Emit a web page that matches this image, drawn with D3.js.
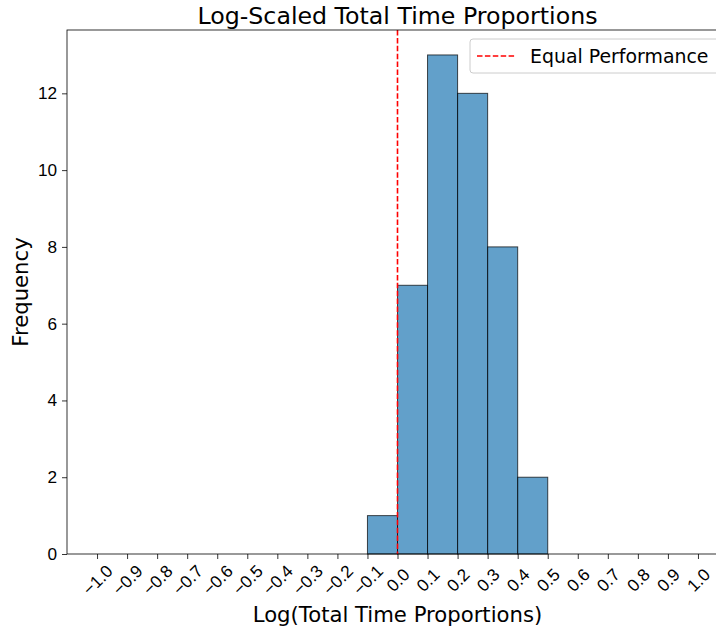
<!DOCTYPE html>
<html>
<head>
<meta charset="utf-8">
<script src="https://cdn.jsdelivr.net/npm/d3@7"></script>
<style>
  body { margin: 0; background: #fff; }
  svg { font-family: "DejaVu Sans", sans-serif; display: block; }
</style>
</head>
<body>
<div id="chart"></div>
<script>
// histogram bins (left edges), bin width and counts
var binStarts = [-0.1, 0.0, 0.1, 0.2, 0.3, 0.4];
var binWidth = 0.1;
var counts = [1, 7, 13, 12, 8, 2];
var xTicks = [-1.0, -0.9, -0.8, -0.7, -0.6, -0.5, -0.4, -0.3, -0.2, -0.1, 0.0,
              0.1, 0.2, 0.3, 0.4, 0.5, 0.6, 0.7, 0.8, 0.9, 1.0];
var yTicks = [0, 2, 4, 6, 8, 10, 12];
var refLine = 0.0;

var bins = binStarts.map(function(d, i) {
    return {x0: d, x1: d + binWidth, count: counts[i]};
});

var W = 716, H = 631;
var margin = {top: 30, right: -12, bottom: 77, left: 67};
var width = W - margin.left - margin.right;
var height = H - margin.top - margin.bottom;

var svg = d3.select("#chart")
    .append("svg")
    .attr("width", W)
    .attr("height", H);

var g = svg.append("g")
    .attr("transform", "translate(" + margin.left + "," + margin.top + ")");

var x = d3.scaleLinear()
    .domain([-1.1, 1.1])
    .range([0, width]);

var y = d3.scaleLinear()
    .domain([0, d3.max(counts) * 1.05])
    .range([height, 0]);

// bars
g.append("g")
    .selectAll("rect")
    .data(bins)
    .enter()
    .append("rect")
    .attr("x", function(d) { return x(d.x0); })
    .attr("y", function(d) { return y(d.count); })
    .attr("width", function(d) { return x(d.x1) - x(d.x0); })
    .attr("height", function(d) { return height - y(d.count); })
    .attr("fill", "#1f77b4")
    .attr("fill-opacity", 0.7)
    .attr("stroke", "#000")
    .attr("stroke-opacity", 0.7)
    .attr("stroke-width", 1);

// reference line
g.append("line")
    .attr("x1", x(refLine))
    .attr("x2", x(refLine))
    .attr("y1", 0)
    .attr("y2", height)
    .attr("stroke", "#ff0000")
    .attr("stroke-width", 1.6)
    .attr("stroke-dasharray", "5.5,2.4");

// x axis
var xAxis = g.append("g")
    .attr("transform", "translate(0," + height + ")")
    .call(d3.axisBottom(x).tickValues(xTicks).tickSize(5).tickPadding(0)
        .tickFormat(function(d) { return d3.format(".1f")(d).replace("-", "\u2212"); }));
xAxis.select(".domain").remove();
xAxis.selectAll(".tick line").attr("stroke", "#000").attr("stroke-width", 0.8);
xAxis.selectAll("text")
    .attr("y", 0)
    .attr("dy", null)
    .attr("transform", "translate(0,26) rotate(-45)")
    .attr("dominant-baseline", "central")
    .style("text-anchor", "middle")
    .style("font-size", "17.2px")
    .attr("fill", "#000");

// y axis
var yAxis = g.append("g")
    .call(d3.axisLeft(y).tickValues(yTicks).tickSize(5).tickPadding(5));
yAxis.select(".domain").remove();
yAxis.selectAll(".tick line").attr("stroke", "#000").attr("stroke-width", 0.8);
yAxis.selectAll("text")
    .style("font-size", "17.2px")
    .attr("fill", "#000");

// spines
g.append("rect")
    .attr("x", 0)
    .attr("y", 0)
    .attr("width", width)
    .attr("height", height)
    .attr("fill", "none")
    .attr("stroke", "#000")
    .attr("stroke-width", 0.8);

// title and labels
svg.append("text")
    .attr("x", margin.left + width / 2)
    .attr("y", 24)
    .attr("text-anchor", "middle")
    .style("font-size", "23.7px")
    .text("Log-Scaled Total Time Proportions");

svg.append("text")
    .attr("x", margin.left + width / 2)
    .attr("y", 622)
    .attr("text-anchor", "middle")
    .style("font-size", "21.2px")
    .text("Log(Total Time Proportions)");

svg.append("text")
    .attr("transform", "translate(28," + (margin.top + height / 2) + ") rotate(-90)")
    .attr("text-anchor", "middle")
    .style("font-size", "21.2px")
    .text("Frequency");

// legend
var legend = svg.append("g")
    .attr("transform", "translate(470,39)");
legend.append("rect")
    .attr("width", 255)
    .attr("height", 34)
    .attr("rx", 3)
    .attr("fill", "#fff")
    .attr("fill-opacity", 0.8)
    .attr("stroke", "#ccc")
    .attr("stroke-width", 1);
legend.append("line")
    .attr("x1", 7)
    .attr("x2", 46)
    .attr("y1", 17)
    .attr("y2", 17)
    .attr("stroke", "#ff0000")
    .attr("stroke-width", 1.6)
    .attr("stroke-dasharray", "5.5,2.4");
legend.append("text")
    .attr("x", 60)
    .attr("y", 17)
    .attr("dominant-baseline", "central")
    .style("font-size", "18.9px")
    .text("Equal Performance");
</script>
</body>
</html>
